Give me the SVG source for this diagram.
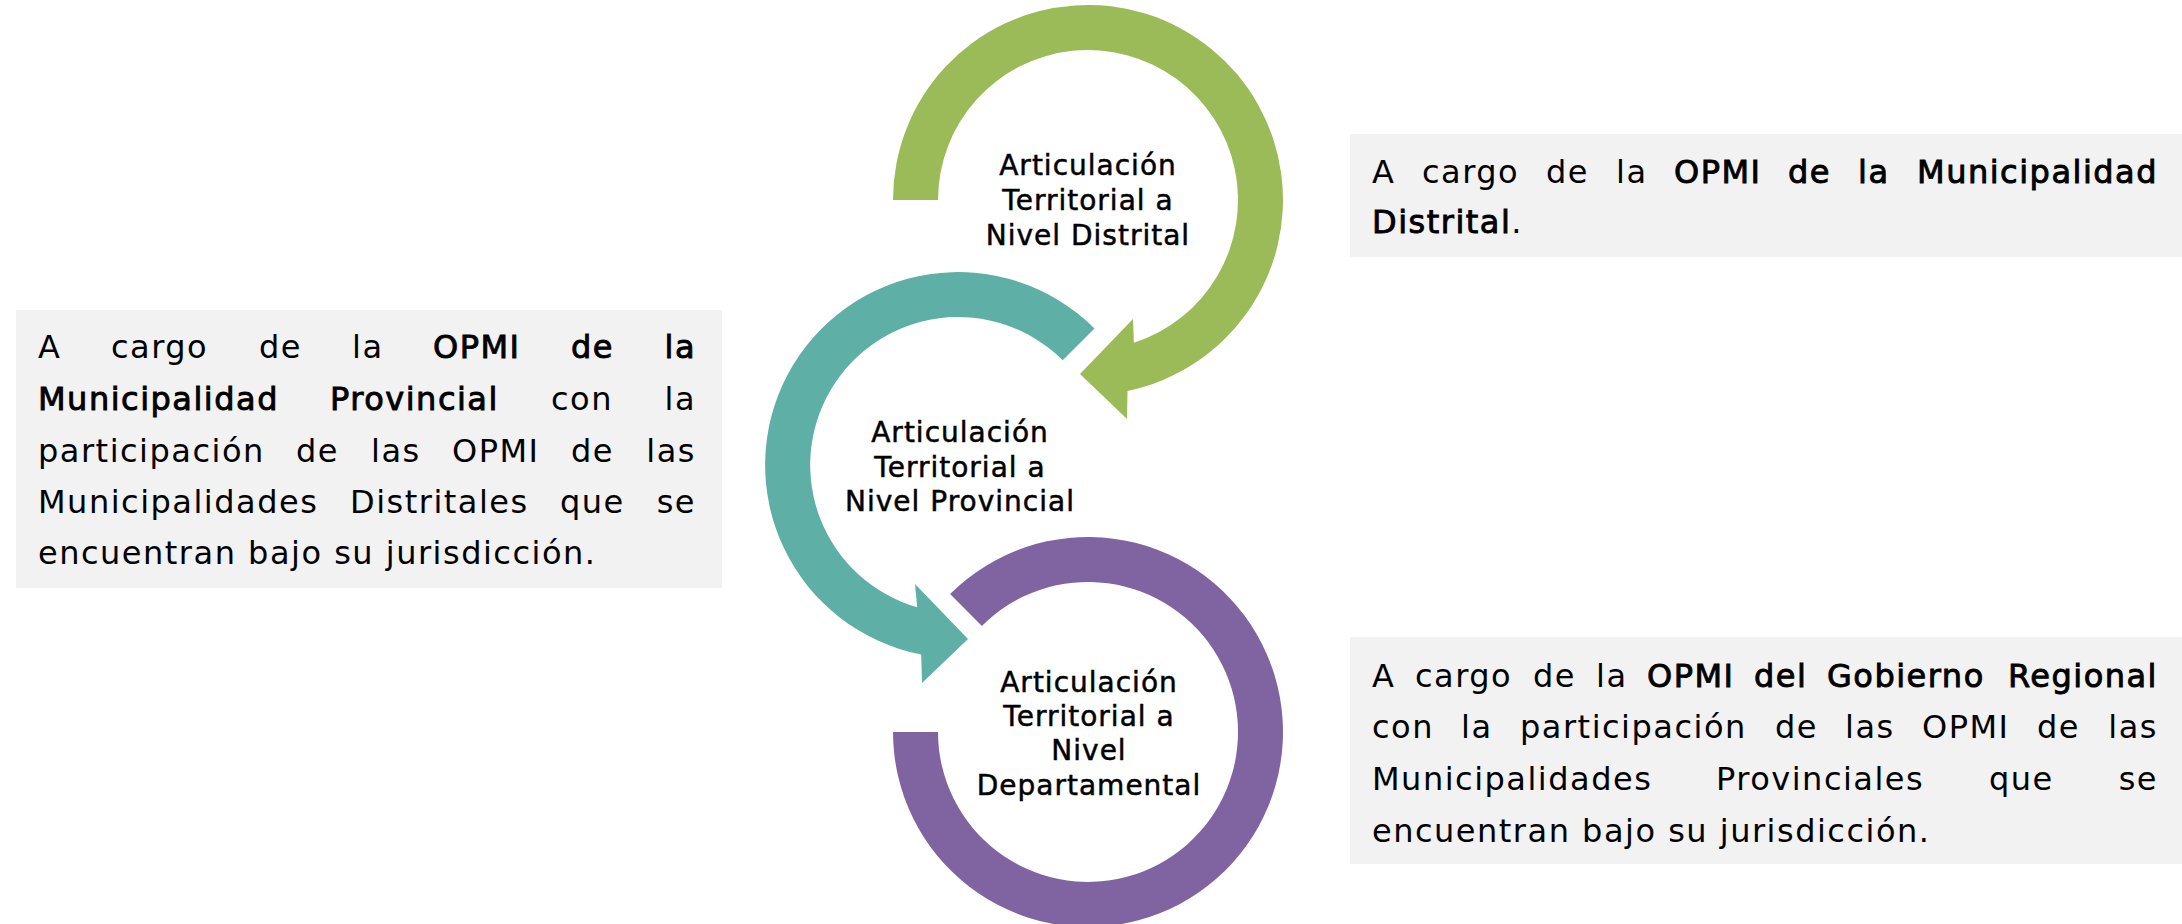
<svg xmlns="http://www.w3.org/2000/svg" width="2182" height="924" viewBox="0 0 2182 924">
<style>
  .t{font-family:"DejaVu Sans","Liberation Sans",sans-serif;font-size:32px;letter-spacing:1.5px;fill:#000}
  .b{stroke:#000;stroke-width:0.9px}
  .c{font-family:"DejaVu Sans","Liberation Sans",sans-serif;font-size:28px;letter-spacing:1px;fill:#000;stroke:#000;stroke-width:0.5px;text-anchor:middle}
  .e{text-anchor:end}
  .box{fill:#F2F2F2}
</style>
<rect width="2182" height="924" fill="#fff"/>
<g id="connectors">
  <path id="arc-distrital" fill="#9BBB59" d="M893,200 A195,195 0 1 1 1127.5,390.9 L1127,419 L1080,374 L1133,319 L1133.9,342.8 A150,150 0 1 0 938,200 Z"/>
  <path id="arc-provincial" fill="#5EAFA6" d="M1094.5,328.5 A193,193 0 1 0 921.2,654.5 L922,683 L968,639 L915,584 L917.2,607.3 A148,148 0 1 1 1062.7,360.3 Z"/>
  <path id="arc-departamental" fill="#8064A2" d="M950.1,594.1 A195,195 0 1 1 893,732 L938,732 A150,150 0 1 0 981.9,625.9 Z"/>
</g>
<g id="node-distrital">
  <text class="c" x="1088" y="175">Articulación</text>
  <text class="c" x="1088" y="210">Territorial a</text>
  <text class="c" x="1088" y="245">Nivel Distrital</text>
</g>
<g id="node-provincial">
  <text class="c" x="960" y="442">Articulación</text>
  <text class="c" x="960" y="477">Territorial a</text>
  <text class="c" x="960" y="511">Nivel Provincial</text>
</g>
<g id="node-departamental">
  <text class="c" x="1089" y="692">Articulación</text>
  <text class="c" x="1089" y="726">Territorial a</text>
  <text class="c" x="1089" y="760">Nivel</text>
  <text class="c" x="1089" y="795">Departamental</text>
</g>
<g id="box-distrital">
  <rect class="box" x="1350" y="134" width="832" height="123"/>
  <text class="t" y="183"><tspan x="1372">A</tspan><tspan x="1422">cargo</tspan><tspan x="1546">de</tspan><tspan x="1616">la</tspan><tspan class="b" x="1674">OPMI</tspan><tspan class="b" x="1788">de</tspan><tspan class="b" x="1858">la</tspan></text>
  <text class="t b e" x="2158" y="183">Municipalidad</text>
  <text class="t" x="1372" y="233"><tspan class="b">Distrital</tspan>.</text>
</g>
<g id="box-provincial">
  <rect class="box" x="16" y="310" width="706" height="278"/>
  <text class="t" y="358"><tspan x="38">A</tspan><tspan x="111">cargo</tspan><tspan x="259">de</tspan><tspan x="352">la</tspan><tspan class="b" x="433">OPMI</tspan><tspan class="b" x="571">de</tspan></text>
  <text class="t b e" x="696" y="358">la</text>
  <text class="t" y="410"><tspan class="b" x="38">Municipalidad</tspan><tspan class="b" x="330">Provincial</tspan><tspan x="551">con</tspan></text>
  <text class="t e" x="696" y="410">la</text>
  <text class="t" y="462"><tspan x="38">participación</tspan><tspan x="296">de</tspan><tspan x="371">las</tspan><tspan x="452">OPMI</tspan><tspan x="571">de</tspan></text>
  <text class="t e" x="696" y="462">las</text>
  <text class="t" y="513"><tspan x="38">Municipalidades</tspan><tspan x="350">Distritales</tspan><tspan x="560">que</tspan></text>
  <text class="t e" x="696" y="513">se</text>
  <text class="t" x="38" y="564">encuentran bajo su jurisdicción.</text>
</g>
<g id="box-departamental">
  <rect class="box" x="1350" y="637" width="832" height="227"/>
  <text class="t" y="687"><tspan x="1372">A</tspan><tspan x="1415">cargo</tspan><tspan x="1533">de</tspan><tspan x="1596">la</tspan><tspan class="b" x="1647">OPMI</tspan><tspan class="b" x="1754">del</tspan><tspan class="b" x="1827">Gobierno</tspan></text>
  <text class="t b e" x="2158" y="687">Regional</text>
  <text class="t" y="738"><tspan x="1372">con</tspan><tspan x="1461">la</tspan><tspan x="1520">participación</tspan><tspan x="1775">de</tspan><tspan x="1845">las</tspan><tspan x="1922">OPMI</tspan><tspan x="2037">de</tspan></text>
  <text class="t e" x="2158" y="738">las</text>
  <text class="t" y="790"><tspan x="1372">Municipalidades</tspan><tspan x="1716">Provinciales</tspan><tspan x="1989">que</tspan></text>
  <text class="t e" x="2158" y="790">se</text>
  <text class="t" x="1372" y="842">encuentran bajo su jurisdicción.</text>
</g>
</svg>
